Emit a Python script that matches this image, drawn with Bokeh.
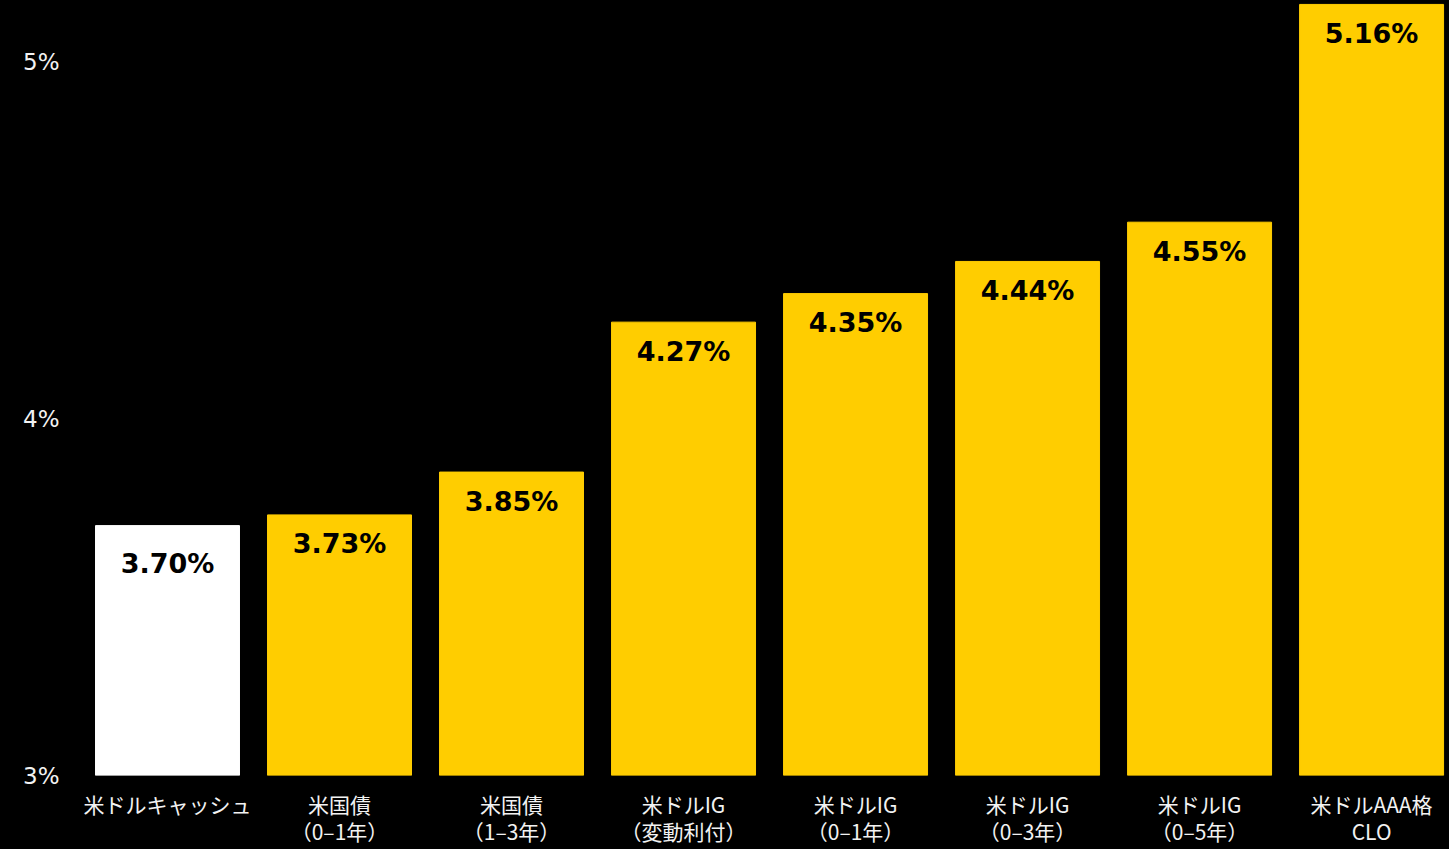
from bokeh.plotting import figure
from bokeh.models import Range1d, FixedTicker, ColumnDataSource
from bokeh.core.properties import value
from bokeh.embed import file_html
from bokeh.resources import INLINE

categories = ["米ドルキャッシュ", "米国債\n（0–1年）", "米国債\n（1–3年）", "米ドルIG\n（変動利付）",
              "米ドルIG\n（0–1年）", "米ドルIG\n（0–3年）", "米ドルIG\n（0–5年）", "米ドルAAA格\nCLO"]
yields = [3.70, 3.73, 3.85, 4.27, 4.35, 4.44, 4.55, 5.16]
value_labels = ["3.70%", "3.73%", "3.85%", "4.27%", "4.35%", "4.44%", "4.55%", "5.16%"]
y_ticks = [3, 4, 5]
y_tick_labels = ["3%", "4%", "5%"]

WHITE, YELLOW = "#FFFFFF", "#FFCD00"
xs = list(range(len(categories)))
colors = [WHITE if i == 0 else YELLOW for i in xs]
offsets = [38 if i == 0 else 29 for i in xs]
src = ColumnDataSource(dict(x=xs, top=yields, color=colors, label=value_labels, off=offsets))

p = figure(width=1449, height=849, output_backend="svg", toolbar_location=None,
           x_range=Range1d(-0.5, 7.453), y_range=Range1d(3, 5.171),
           min_border_left=81, min_border_right=0, min_border_top=0, min_border_bottom=74)
p.background_fill_color = "black"
p.border_fill_color = "black"
p.outline_line_color = None
p.grid.grid_line_color = None

p.vbar(x="x", top="top", bottom=3, width=0.837, color="color", source=src)
p.text(x="x", y="top", text="label", source=src, y_offset="off",
       text_align="center", text_baseline="middle", text_color="black",
       text_font=value("DejaVu Sans"), text_font_style="bold", text_font_size="27px")

p.xaxis.ticker = FixedTicker(ticks=xs)
p.xaxis.major_label_overrides = {i: c for i, c in enumerate(categories)}
p.xaxis.major_label_text_font = "Noto Sans CJK JP"
p.xaxis.major_label_text_font_size = "21px"
p.xaxis.major_label_text_line_height = 0.93
p.xaxis.major_label_text_color = "#F2F2F2"
p.xaxis.major_label_standoff = 7
p.xaxis.axis_line_color = None
p.xaxis.major_tick_line_color = None
p.xaxis.minor_tick_line_color = None

p.yaxis.ticker = FixedTicker(ticks=y_ticks)
p.yaxis.major_label_overrides = {t: l for t, l in zip(y_ticks, y_tick_labels)}
p.yaxis.major_label_text_font = "DejaVu Sans"
p.yaxis.major_label_text_font_size = "23px"
p.yaxis.major_label_text_color = "#F2F2F2"
p.yaxis.major_label_standoff = 16
p.yaxis.axis_line_color = None
p.yaxis.major_tick_line_color = None
p.yaxis.minor_tick_line_color = None

html = file_html(p, INLINE)
html = html.replace("<head>", "<head><style>html,body{background:#000;margin:0;}</style>", 1)
open("out.html", "w").write(html)
